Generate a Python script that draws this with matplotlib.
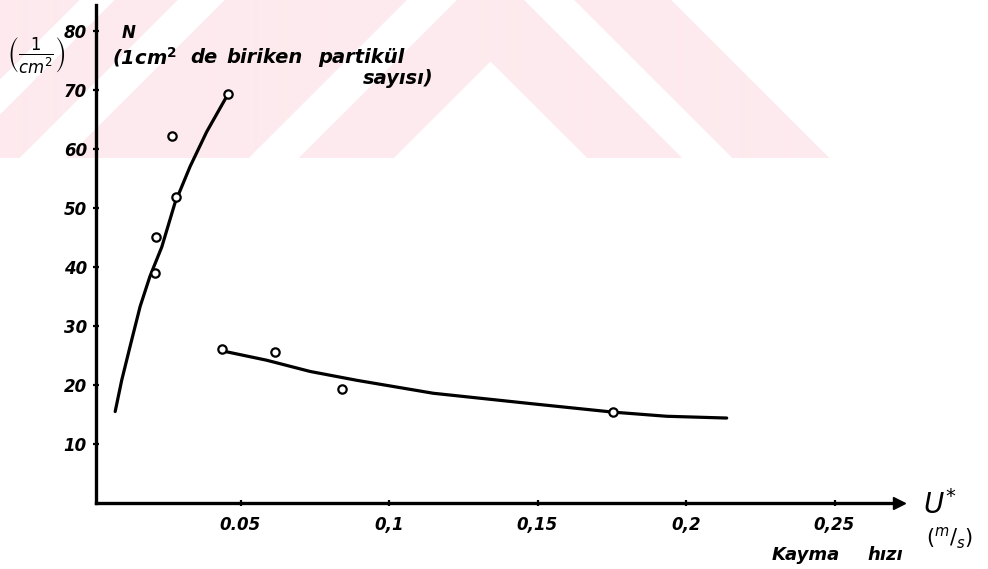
import numpy as np
import matplotlib
matplotlib.use("Agg")
import matplotlib.pyplot as plt

# Deposited particle count N (1/cm^2) against friction velocity U* (m/s)
u_low = [0.0213, 0.0215, 0.0282, 0.0268, 0.0459]
n_low = [38.9, 45.1, 51.9, 62.2, 69.4]
u_high = [0.0439, 0.0616, 0.0843, 0.1755]
n_high = [26.1, 25.6, 19.3, 15.4]

# hand-drawn trend curves through the two groups
curve_low_u = [0.0078, 0.0100, 0.0128, 0.0162, 0.0195, 0.0235, 0.0279, 0.0330, 0.0386, 0.0459]
curve_low_n = [15.5, 20.8, 26.5, 33.3, 38.4, 43.4, 50.8, 57.0, 62.9, 69.4]
curve_high_u = [0.0437, 0.0588, 0.0734, 0.0891, 0.1149, 0.1486, 0.1755, 0.1935, 0.2137]
curve_high_n = [25.8, 24.2, 22.3, 20.8, 18.6, 16.8, 15.4, 14.7, 14.4]

x_ticks = [0.05, 0.1, 0.15, 0.2, 0.25]
x_tick_labels = ["0.05", "0,1", "0,15", "0,2", "0,25"]
y_ticks = [10, 20, 30, 40, 50, 60, 70, 80]
y_tick_labels = ["10", "20", "30", "40", "50", "60", "70", "80"]

W, H = 988, 569
fig = plt.figure(figsize=(W / 100, H / 100), dpi=100)

# faint pink diagonal background band across the top of the sheet
bg = fig.add_axes([0, 0, 1, 1], zorder=0)
bg.set_xlim(0, W)
bg.set_ylim(H, 0)
bg.axis("off")
band_h = 158
yy, xx = np.mgrid[0:band_h, 0:W] + 0.5
u = yy - np.abs(xx - 490)
pink = ((u >= -33) & (u < 62)) | ((u >= -180) & (u < -83))
left = xx < 490
pink |= left & (u >= -265) & (u < -83)
pink |= left & (u >= -375) & (u < -312)
pink |= left & (u < -410)
img = np.ones((band_h, W, 3))
img[pink] = np.array([253, 234, 238]) / 255.0
bg.imshow(img, extent=(0, W, band_h, 0), interpolation="bilinear", aspect="auto")

hand = dict(family="DejaVu Sans", style="italic", weight="bold", color="black")

# pixel scale of the drawing: 2970 px per unit of U*, 5.9 px per unit of N
x0_px, y0_px = 92, 503
sx, sy = 2970.0, 5.9
x_lo = (96 - x0_px) / sx
x_hi = (899 - x0_px) / sx
y_hi = 84.4
ax = fig.add_axes([96 / W, (H - y0_px) / H, (x_hi - x_lo) * sx / W, y_hi * sy / H], zorder=1)
ax.patch.set_alpha(0)
ax.set_xlim(x_lo, x_hi)
ax.set_ylim(0, y_hi)
for side in ("top", "right"):
    ax.spines[side].set_visible(False)
for side in ("left", "bottom"):
    ax.spines[side].set_linewidth(2.4)

ax.set_xticks(x_ticks)
ax.set_xticklabels(x_tick_labels, fontsize=12, **hand)
ax.set_yticks(y_ticks)
ax.set_yticklabels(y_tick_labels, fontsize=12, **hand)
ax.tick_params(axis="both", direction="inout", length=5, width=1.6)
ax.tick_params(axis="x", pad=7)
ax.tick_params(axis="y", pad=4)

# arrow head at the end of the abscissa
ax.plot([x_hi], [0], marker=">", markersize=9, color="black", clip_on=False)

ax.plot(curve_low_u, curve_low_n, color="black", lw=2.3, solid_capstyle="round")
ax.plot(curve_high_u, curve_high_n, color="black", lw=2.3, solid_capstyle="round")
ax.plot(u_low, n_low, "o", ms=6, mfc="white", mec="black", mew=1.6, zorder=3)
ax.plot(u_high, n_high, "o", ms=6, mfc="white", mec="black", mew=1.6, zorder=3)


def put(x, y, s, **kw):
    fig.text(x / W, 1 - y / H, s, **kw)


put(122, 33, "N", fontsize=12, ha="left", va="center", **hand)
put(112, 57, "(1cm$^{\\mathbf{2}}$", fontsize=14, ha="left", va="center", **hand)
put(190, 57, "de", fontsize=14, ha="left", va="center", **hand)
put(226, 57, "biriken", fontsize=14, ha="left", va="center", **hand)
put(318, 57, "partikül", fontsize=14, ha="left", va="center", **hand)
put(363, 79, "sayısı)", fontsize=14, ha="left", va="center", **hand)
put(36, 56, r"$\left(\frac{1}{cm^2}\right)$", fontsize=17, ha="center", va="center")
put(940, 505, r"$U^{*}$", fontsize=20, ha="center", va="center")
put(950, 538, r"$(^{m}/_{s})$", fontsize=15, ha="center", va="center")
put(840, 555, "Kayma", fontsize=13, ha="right", va="center", **hand)
put(903, 555, "hızı", fontsize=13, ha="right", va="center", **hand)

fig.savefig("out.png", dpi=100)
